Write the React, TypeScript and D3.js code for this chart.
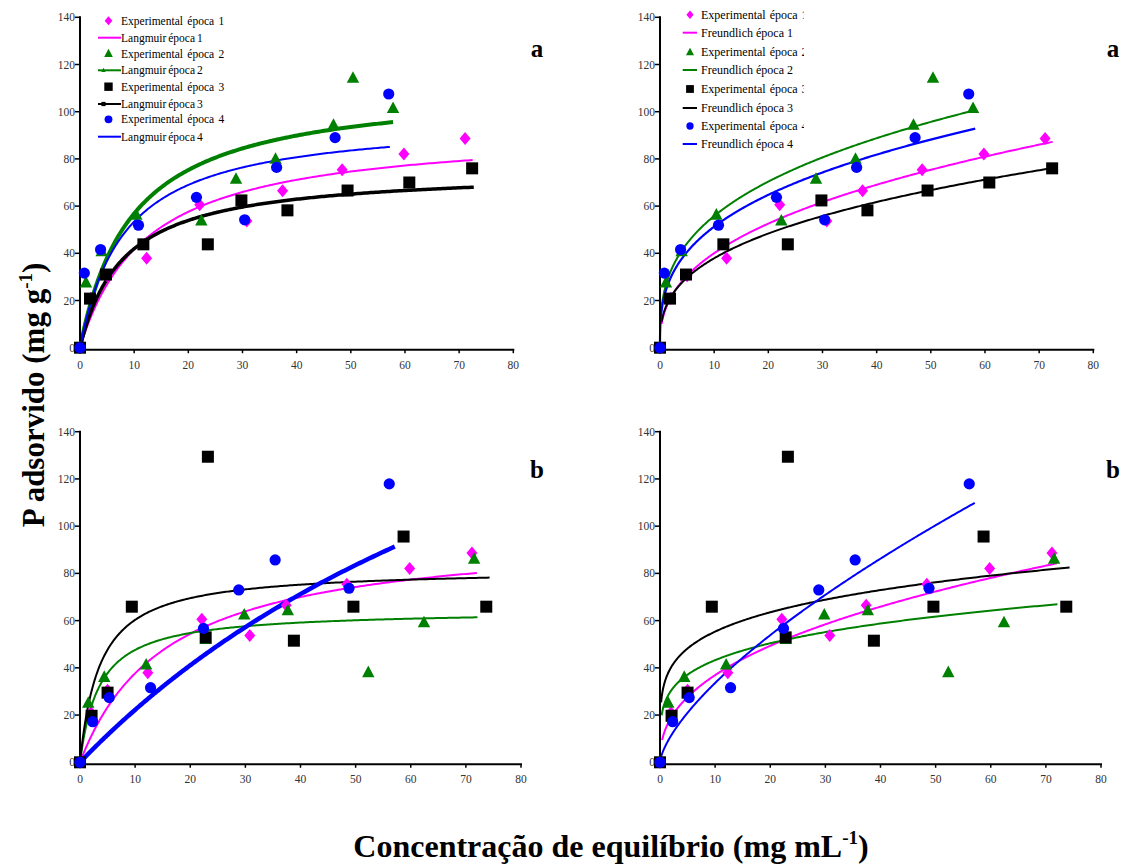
import React from "react";
import * as d3 from "d3";

// ---------- tick labels ----------
const xTicks = [0, 10, 20, 30, 40, 50, 60, 70, 80];
const yTicks = [0, 20, 40, 60, 80, 100, 120, 140];
const epocas = ["época 1", "época 2", "época 3", "época 4"];

// ---------- experimental data (a: top panels) ----------
const epoca1C = [0, 2, 5, 12.3, 22.1, 30.8, 37.4, 48.4, 59.8, 71.1];
const epoca1Q = [0, 21, 30.5, 37.9, 60.6, 53.7, 66.5, 75.4, 82.1, 88.6];
const epoca2aC = [0, 1.1, 4.0, 10.4, 22.4, 28.8, 36.1, 46.8, 50.4, 57.8];
const epoca2aQ = [0, 27.5, 40.7, 56.2, 53.7, 71.4, 79.9, 94.3, 114.2, 101.4];
const epoca3aC = [0, 1.85, 4.8, 11.7, 23.6, 29.8, 38.3, 49.4, 60.8, 72.4];
const epoca3aQ = [0, 20.8, 31, 43.8, 43.8, 62.4, 58.2, 66.6, 70.0, 76];
const epoca4aC = [0, 0.8, 3.8, 10.8, 21.5, 30.4, 36.3, 47.1, 57.0];
const epoca4aQ = [0, 31.6, 41.6, 51.9, 63.7, 54.2, 76.4, 89.0, 107.5];

// ---------- experimental data (b: bottom panels) ----------
const epoca2bC = [0, 1.5, 4.4, 12.0, 22.8, 29.8, 37.7, 52.3, 62.4, 71.5];
const epoca2bQ = [0, 25.0, 36.0, 41.2, 52, 62.4, 64.2, 38.0, 59.1, 86.0];
const epoca3bC = [0, 2.1, 5.0, 9.4, 22.8, 23.2, 38.8, 49.6, 58.7, 73.7];
const epoca3bQ = [0, 19.7, 29.5, 65.9, 52.9, 129.4, 51.5, 65.9, 95.6, 65.9];
const epoca4bC = [0, 2.3, 5.3, 12.8, 22.4, 28.8, 35.4, 48.8, 56.1];
const epoca4bQ = [0, 17.2, 27.4, 31.6, 56.7, 73.0, 85.7, 73.7, 117.9];

// ---------- fitted model parameters ----------
// Langmuir: q = qmax*K*C/(1+K*C)
const langmuirA_qmax = [93, 111.5, 75.5, 97.3];
const langmuirA_K = [0.0813, 0.104, 0.125, 0.1217];
const langmuirA_end = [72.5, 57.8, 72.7, 57.2];
const langmuirB_qmax = [98, 64.4, 82, 268.5];
const langmuirB_K = [0.0625, 0.283, 0.278, 0.00903];
const langmuirB_end = [72, 72.1, 74.3, 57.1];
// Freundlich: q = Kf*C^(1/n)
const freundlichA_Kf = [16.2, 25.8, 16.85, 23.6];
const freundlichA_inv_n = [0.393, 0.335, 0.352, 0.337];
const freundlichA_start = [0.3, 0.3, 0.3, 0];
const freundlichA_end = [72.5, 57.8, 72.5, 58.2];
const freundlichB_Kf = [14.1, 26.0, 35.0, 7.02];
const freundlichB_inv_n = [0.418, 0.221, 0.199, 0.68];
const freundlichB_start = [0.38, 0.3, 0.2, 0];
const freundlichB_end = [72, 72.1, 74.3, 57.1];

// ---------- styles ----------
const colors = ["#FF00FF", "#008000", "#000000", "#0000FF"];
const shapes = ["diamond", "triangle", "square", "circle"];
const FONT = "'Liberation Serif', 'Times New Roman', Times, serif";

type Panel = {
  set: "a" | "b";
  model: "L" | "F";
  x0: number; x1: number; y0: number; y1: number;
  letterX: number;
  widths: number[];
};

const panels: Panel[] = [
  { set: "a", model: "L", x0: 80, x1: 513.3, y0: 347.7, y1: 17.3, letterX: 537, widths: [2, 4, 3.5, 2] },
  { set: "a", model: "F", x0: 660, x1: 1093.3, y0: 347.7, y1: 17.3, letterX: 1113, widths: [2, 2, 2, 2.2] },
  { set: "b", model: "L", x0: 80, x1: 521, y0: 762.3, y1: 431.7, letterX: 537, widths: [2, 2, 2, 4.5] },
  { set: "b", model: "F", x0: 660, x1: 1101, y0: 762.3, y1: 431.7, letterX: 1113, widths: [2, 2, 2, 2] },
];

function zip(c: number[], q: number[]) {
  return c.map((v, i) => [v, q[i]] as [number, number]);
}

function expData(set: "a" | "b") {
  if (set === "a")
    return [zip(epoca1C, epoca1Q), zip(epoca2aC, epoca2aQ), zip(epoca3aC, epoca3aQ), zip(epoca4aC, epoca4aQ)];
  return [zip(epoca1C, epoca1Q), zip(epoca2bC, epoca2bQ), zip(epoca3bC, epoca3bQ), zip(epoca4bC, epoca4bQ)];
}

function modelCurve(p: Panel, i: number): [number, number][] {
  let f: (c: number) => number;
  let start = 0, end = 0;
  if (p.model === "L") {
    const qm = p.set === "a" ? langmuirA_qmax[i] : langmuirB_qmax[i];
    const K = p.set === "a" ? langmuirA_K[i] : langmuirB_K[i];
    end = p.set === "a" ? langmuirA_end[i] : langmuirB_end[i];
    f = (c) => (qm * K * c) / (1 + K * c);
  } else {
    const Kf = p.set === "a" ? freundlichA_Kf[i] : freundlichB_Kf[i];
    const n = p.set === "a" ? freundlichA_inv_n[i] : freundlichB_inv_n[i];
    start = p.set === "a" ? freundlichA_start[i] : freundlichB_start[i];
    end = p.set === "a" ? freundlichA_end[i] : freundlichB_end[i];
    f = (c) => Kf * Math.pow(c, n);
  }
  return d3.range(0, 301).map((k) => {
    const t = k / 300;
    const c = start + (end - start) * t * t;
    return [c, f(c)] as [number, number];
  });
}

function Marker({ shape, x, y, color, s = 1 }: { shape: string; x: number; y: number; color: string; s?: number }) {
  if (shape === "diamond")
    return <path d={`M${x},${y - 6.5 * s}L${x + 5.5 * s},${y}L${x},${y + 6.5 * s}L${x - 5.5 * s},${y}Z`} fill={color} />;
  if (shape === "triangle")
    return <path d={`M${x},${y - 7 * s}L${x + 6.2 * s},${y + 4.6 * s}L${x - 6.2 * s},${y + 4.6 * s}Z`} fill={color} />;
  if (shape === "square")
    return <rect x={x - 6 * s} y={y - 6 * s} width={12 * s} height={12 * s} fill={color} />;
  return <ellipse cx={x} cy={y} rx={5.6 * s} ry={5.6 * s} fill={color} />;
}

function PanelView({ p }: { p: Panel }) {
  const sx = d3.scaleLinear().domain([0, 80]).range([p.x0, p.x1]);
  const sy = d3.scaleLinear().domain([0, 140]).range([p.y0, p.y1]);
  const line = d3.line<[number, number]>().x((d) => sx(d[0])).y((d) => sy(d[1]));
  const data = expData(p.set);
  const axisY = p.y0 + 2;
  return (
    <g>
      {/* fitted curves */}
      {[0, 1, 2, 3].map((i) => (
        <path key={"c" + i} d={line(modelCurve(p, i)) || ""} fill="none" stroke={colors[i]} strokeWidth={p.widths[i]} />
      ))}
      {/* axes */}
      <line x1={p.x0} x2={p.x0} y1={p.y1 - 1} y2={axisY + 1} stroke="#000" strokeWidth={2} />
      <line x1={p.x0} x2={p.x1 + 1} y1={axisY} y2={axisY} stroke="#000" strokeWidth={2} />
      {yTicks.map((t) => (
        <g key={"yt" + t}>
          <line x1={p.x0 - 5} x2={p.x0} y1={sy(t)} y2={sy(t)} stroke="#000" strokeWidth={1.5} />
          <text x={p.x0 - 5} y={sy(t) + 4} textAnchor="end" fontSize={11.5} fill="#333" fontFamily={FONT}>{t}</text>
        </g>
      ))}
      {xTicks.map((t) => (
        <g key={"xt" + t}>
          <line x1={sx(t)} x2={sx(t)} y1={axisY} y2={axisY + 3.5} stroke="#000" strokeWidth={1.5} />
          <text x={sx(t)} y={axisY + 19} textAnchor="middle" fontSize={11.5} fill="#333" fontFamily={FONT}>{t}</text>
        </g>
      ))}
      {/* experimental points */}
      {data.map((pts, i) => (
        <g key={"m" + i}>
          {pts.map((d, k) => (
            <Marker key={k} shape={shapes[i]} x={sx(d[0])} y={sy(d[1])} color={colors[i]} />
          ))}
        </g>
      ))}
      {/* panel letter */}
      <text x={p.letterX} y={p.set === "a" ? 57 : 478} textAnchor="middle" fontSize={25} fontWeight="bold" fontFamily={FONT}>
        {p.set}
      </text>
    </g>
  );
}

function LegendLangmuir() {
  const ys = [20.7, 37.7, 53.7, 70.3, 86.7, 104, 119.3, 136.7];
  return (
    <g fontFamily={FONT} fontSize={11.5}>
      {[0, 1, 2, 3].map((i) => (
        <g key={i}>
          <Marker shape={shapes[i]} x={108.5} y={ys[2 * i]} color={colors[i]} s={0.7} />
          <text x={121} y={ys[2 * i] + 4} wordSpacing={1.5}>{"Experimental " + epocas[i]}</text>
          <line x1={98} x2={121} y1={ys[2 * i + 1]} y2={ys[2 * i + 1]} stroke={colors[i]} strokeWidth={2} />
          {i === 1 || i === 2 ? <Marker shape={shapes[i]} x={103.5} y={ys[2 * i + 1]} color={colors[i]} s={0.35} /> : null}
          <text x={121} y={ys[2 * i + 1] + 4} wordSpacing={-1}>{"Langmuir " + epocas[i]}</text>
        </g>
      ))}
    </g>
  );
}

function LegendFreundlich() {
  const ys = [14.7, 32.7, 52.3, 70, 89, 108, 126, 144];
  return (
    <g fontFamily={FONT} fontSize={12}>
      <defs>
        <clipPath id="legclip">
          <rect x={640} y={0} width={164} height={160} />
        </clipPath>
      </defs>
      {[0, 1, 2, 3].map((i) => (
        <g key={i}>
          <Marker shape={shapes[i]} x={690} y={ys[2 * i]} color={colors[i]} s={0.65} />
          <text x={701} y={ys[2 * i] + 4} clipPath="url(#legclip)" wordSpacing={1}>{"Experimental " + epocas[i]}</text>
          <line x1={682.7} x2={697} y1={ys[2 * i + 1]} y2={ys[2 * i + 1]} stroke={colors[i]} strokeWidth={2} />
          <text x={701} y={ys[2 * i + 1] + 4}>{"Freundlich " + epocas[i]}</text>
        </g>
      ))}
    </g>
  );
}

export default function App() {
  return (
    <div style={{ position: "absolute", left: 0, top: 0 }}>
      <svg width={1125} height={864} style={{ display: "block", background: "#fff" }}>
        <rect width={1125} height={864} fill="#fff" />
        {panels.map((p, i) => (
          <PanelView key={i} p={p} />
        ))}
        <LegendLangmuir />
        <LegendFreundlich />
        {/* y-axis title */}
        <text
          transform="translate(44,395) rotate(-90)"
          textAnchor="middle"
          fontFamily={FONT}
          fontWeight="bold"
          fontSize={31}
        >
          P adsorvido (mg g
          <tspan dy={-12} fontSize={19}>-1</tspan>
          <tspan dy={12}>)</tspan>
        </text>
        {/* x-axis title */}
        <text x={611} y={857} textAnchor="middle" fontFamily={FONT} fontWeight="bold" fontSize={32}>
          Concentração de equilíbrio (mg mL
          <tspan dy={-13} fontSize={19}>-1</tspan>
          <tspan dy={13}>)</tspan>
        </text>
      </svg>
    </div>
  );
}
